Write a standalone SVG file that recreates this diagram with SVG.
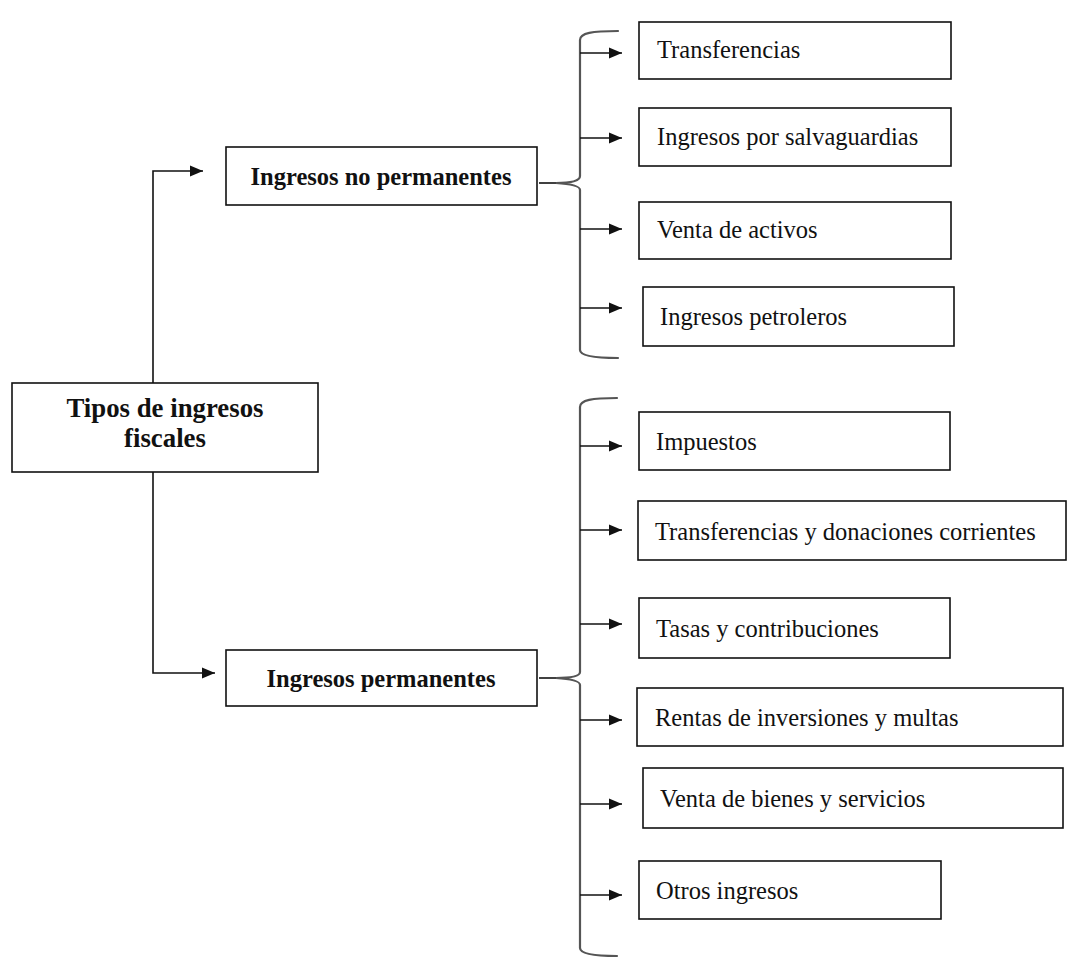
<svg xmlns="http://www.w3.org/2000/svg" width="1068" height="958" viewBox="0 0 1068 958">
  <style>
    .box { fill: #fff; stroke: #111; stroke-width: 1.6; }
    .t { font-family: "Liberation Serif", "Times New Roman", serif; font-size: 24.5px; fill: #111; }
    .b { font-family: "Liberation Serif", "Times New Roman", serif; font-size: 24.5px; font-weight: bold; fill: #111; text-anchor: middle; }
    .title { font-family: "Liberation Serif", "Times New Roman", serif; font-size: 26.8px; font-weight: bold; fill: #111; text-anchor: middle; }
    .ln { fill: none; stroke: #111; stroke-width: 1.6; }
    .brace { fill: none; stroke: #555; stroke-width: 2.2; stroke-linecap: round; }
  </style>
  <defs>
    <marker id="arr" markerUnits="userSpaceOnUse" markerWidth="14" markerHeight="12" refX="13" refY="6" orient="auto">
      <path d="M0,0.5 L13,6 L0,11.5 Z" fill="#111"/>
    </marker>
  </defs>
  <rect width="1068" height="958" fill="#fff"/>

  <!-- connectors: elbows from the root, braces and arrows to the leaves -->
  <g id="connectors">
    <path class="ln" d="M153,383 V171 H203" marker-end="url(#arr)"/>
    <path class="ln" d="M153,472 V673 H215" marker-end="url(#arr)"/>

    <!-- brace for "Ingresos no permanentes" -->
    <line class="ln" x1="539" y1="183" x2="560" y2="183"/>
    <path class="brace" d="M618,31 C592,31 580,33 580,40 V176 C580,181 572,183 556,183 C572,184 580,186 580,190 V350 C580,355 592,358 618,358"/>
    <line class="ln" x1="580" y1="53" x2="622" y2="53" marker-end="url(#arr)"/>
    <line class="ln" x1="580" y1="138" x2="622" y2="138" marker-end="url(#arr)"/>
    <line class="ln" x1="580" y1="229" x2="622" y2="229" marker-end="url(#arr)"/>
    <line class="ln" x1="580" y1="308" x2="622" y2="308" marker-end="url(#arr)"/>

    <!-- brace for "Ingresos permanentes" -->
    <line class="ln" x1="539" y1="678" x2="560" y2="678"/>
    <path class="brace" d="M617,398 C592,398 580,400 580,407 V672 C580,676 572,678 556,678 C572,679 580,681 580,685 V948 C580,953 592,956 617,956"/>
    <line class="ln" x1="580" y1="446" x2="622" y2="446" marker-end="url(#arr)"/>
    <line class="ln" x1="580" y1="530" x2="622" y2="530" marker-end="url(#arr)"/>
    <line class="ln" x1="580" y1="624" x2="622" y2="624" marker-end="url(#arr)"/>
    <line class="ln" x1="580" y1="720" x2="622" y2="720" marker-end="url(#arr)"/>
    <line class="ln" x1="580" y1="804" x2="622" y2="804" marker-end="url(#arr)"/>
    <line class="ln" x1="580" y1="895" x2="622" y2="895" marker-end="url(#arr)"/>
  </g>

  <g id="root">
    <rect class="box" x="12" y="383" width="306" height="89"/>
    <text class="title" x="165" y="417">Tipos de ingresos</text>
    <text class="title" x="165" y="447">fiscales</text>
  </g>

  <g id="no-permanentes">
    <rect class="box" x="226" y="147" width="311" height="58"/>
    <text class="b" x="381" y="185">Ingresos no permanentes</text>
  </g>

  <g id="permanentes">
    <rect class="box" x="226" y="650" width="311" height="56"/>
    <text class="b" x="381" y="687">Ingresos permanentes</text>
  </g>

  <g id="transferencias">
    <rect class="box" x="639" y="22" width="312" height="57"/>
    <text class="t" x="657" y="58">Transferencias</text>
  </g>
  <g id="salvaguardias">
    <rect class="box" x="639" y="108" width="312" height="58"/>
    <text class="t" x="657" y="145">Ingresos por salvaguardias</text>
  </g>
  <g id="venta-activos">
    <rect class="box" x="639" y="202" width="312" height="57"/>
    <text class="t" x="657" y="238">Venta de activos</text>
  </g>
  <g id="petroleros">
    <rect class="box" x="643" y="287" width="311" height="59"/>
    <text class="t" x="660" y="325">Ingresos petroleros</text>
  </g>

  <g id="impuestos">
    <rect class="box" x="639" y="412" width="311" height="58"/>
    <text class="t" x="656" y="450">Impuestos</text>
  </g>
  <g id="transferencias-donaciones">
    <rect class="box" x="638" y="501" width="428" height="59"/>
    <text class="t" x="655" y="540">Transferencias y donaciones corrientes</text>
  </g>
  <g id="tasas">
    <rect class="box" x="639" y="598" width="311" height="60"/>
    <text class="t" x="656" y="637">Tasas y contribuciones</text>
  </g>
  <g id="rentas">
    <rect class="box" x="637" y="688" width="426" height="58"/>
    <text class="t" x="655" y="726">Rentas de inversiones y multas</text>
  </g>
  <g id="venta-bienes">
    <rect class="box" x="643" y="768" width="420" height="60"/>
    <text class="t" x="660" y="807">Venta de bienes y servicios</text>
  </g>
  <g id="otros">
    <rect class="box" x="639" y="861" width="302" height="58"/>
    <text class="t" x="656" y="899">Otros ingresos</text>
  </g>
</svg>
